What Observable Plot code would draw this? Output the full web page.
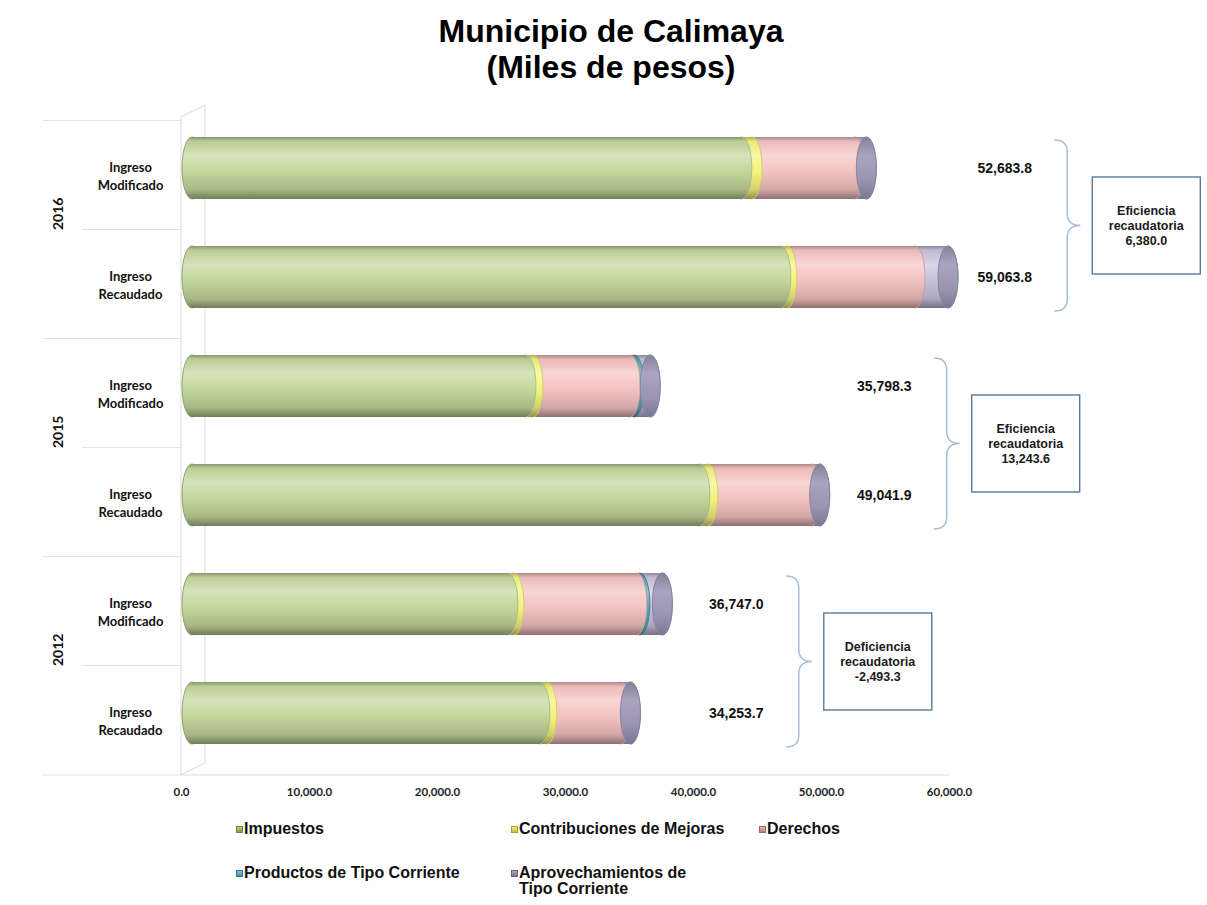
<!DOCTYPE html>
<html><head><meta charset="utf-8">
<script src="https://cdn.jsdelivr.net/npm/d3@7"></script>
<script src="https://cdn.jsdelivr.net/npm/@observablehq/plot@0.6"></script>
<style>
body{margin:0;background:#fff;width:1207px;height:905px;overflow:hidden;font-family:"Liberation Sans",Arial,sans-serif;}
#title{position:relative;height:100px;}
#title div{position:absolute;left:611px;transform:translateX(-50%);white-space:nowrap;font-weight:bold;font-size:32px;line-height:35px;color:#000}
#chart svg{display:block}
#legend{position:relative;height:105px}
.item{position:absolute;display:flex;align-items:flex-start;font-weight:bold;font-size:16px;line-height:16px;color:#111;white-space:nowrap}
.sw{width:7px;height:7px;margin:5px 1px 0 0;flex:none;box-sizing:border-box}
</style></head><body>
<div id="title"><div style="top:14px">Municipio de Calimaya</div><div style="top:50px">(Miles de pesos)</div></div>
<div id="chart"></div>
<div id="legend"></div>
<script>
// ---- data ----
const years = [2016, 2015, 2012];
const rowYear = [2016, 2016, 2015, 2015, 2012, 2012];
const rowTipo = ["Modificado", "Recaudado", "Modificado", "Recaudado", "Modificado", "Recaudado"];
const series = ["Impuestos", "Contribuciones de Mejoras", "Derechos", "Productos de Tipo Corriente", "Aprovechamientos de Tipo Corriente"];
const legendLabels = ["Impuestos", "Contribuciones de Mejoras", "Derechos", "Productos de Tipo Corriente", "Aprovechamientos de<br>Tipo Corriente"];
const impuestos       = [42955, 46000, 26085, 39675, 24680, 27179];
const contribuciones  = [800, 470, 550, 625, 470, 547];
const derechos        = [8044, 10016.8, 7601, 8116.9, 9606, 5779];
const productos       = [0, 0, 312, 0, 234, 0];
const aprovechamientos= [884.8, 2577, 1250.3, 625, 1757, 748.7];
const totals          = [52683.8, 59063.8, 35798.3, 49041.9, 36747.0, 34253.7];
const xTicks = [0, 10000, 20000, 30000, 40000, 50000, 60000];

// ---- styles ----
const baseColors = ["#c3d69b", "#f3f37d", "#f4c2c1", "#5d9fae", "#c9c1dc"];
const capStroke  = ["#a9bb84", "#cfcc66", "#b9a2b0", "#3f7f8f", "#8f93b0"];
const swatch     = ["#9bbb59", "#e6e34f", "#d99694", "#4bacc6", "#8f8aa8"];

const loc = d3.formatLocale({decimal: ".", thousands: ",", grouping: [3], currency: ["$", ""], minus: "-"});
const fmt = loc.format(",.1f");

const keys = rowYear.map((y, i) => `${y}|${rowTipo[i]}`);
const seriesValues = [impuestos, contribuciones, derechos, productos, aprovechamientos];
const segs = [];
keys.forEach((k, i) => {
  let c = 0;
  seriesValues.forEach((vals, s) => {
    const v = vals[i];
    if (v > 0) segs.push({key: k, s, x1: c, x2: c + v});
    c += v;
  });
});
const rows = keys.map((k, i) => ({key: k, year: rowYear[i], tipo: rowTipo[i], total: totals[i]}));
const groupMax = {};
rows.forEach(r => groupMax[r.year] = Math.max(groupMax[r.year] || 0, r.total));
const labelX = y => groupMax[y] * 0.94 + 8800;

const DX = 11, DY = -7;
const capOpts = {y: "key", insetLeft: -10, insetRight: -10, rx: 10, ry: 40, dx: DX, dy: DY, strokeWidth: 0.9};
const marks = [];
// right-to-left: each segment's end cap, then its body over the cap's left half
for (let s = series.length - 1; s >= 0; s--) {
  const d = segs.filter(g => g.s === s);
  marks.push(Plot.barX(d, {...capOpts, x1: "x2", x2: "x2", fill: `url(#g${s})`, stroke: capStroke[s]}));
  if (s === 0) marks.push(Plot.barX(d, {...capOpts, x1: "x1", x2: "x1", fill: "url(#g0)", stroke: "#8a9a68"}));
  marks.push(Plot.barX(d, {x1: "x1", x2: "x2", y: "key", fill: `url(#g${s})`, dx: DX, dy: DY}));
}
marks.push(Plot.barX(rows, {...capOpts, x1: "total", x2: "total", fill: "url(#gface)", stroke: "#7e86a0", strokeWidth: 1}));
marks.push(Plot.text(rows, {x: d => labelX(d.year), y: "key", text: d => fmt(d.total), dy: DY,
  fontFamily: "Liberation Sans, Arial, sans-serif", fontSize: 14, fontWeight: "bold", fill: "#111"}));
marks.push(Plot.text(years, {y: d => `${d}|Recaudado`, text: d => String(d), frameAnchor: "left", dx: -123, dy: -54.5,
  rotate: -90, fontFamily: "Lato, sans-serif", fontSize: 14, fontWeight: "bold", fill: "#111"}));
marks.push(Plot.axisX(xTicks, {tickFormat: fmt, tickSize: 0, tickPadding: 12, label: null,
  fontFamily: "Lato, sans-serif", fontSize: 11.5, fontWeight: "bold", fill: "#222"}));
marks.push(Plot.axisY({tickSize: 0, tickPadding: 51, textAnchor: "middle", label: null,
  tickFormat: k => "Ingreso\n" + k.split("|")[1], lineHeight: 1.38,
  fontFamily: "Lato, sans-serif", fontSize: 13, fontWeight: "bold", fill: "#111"}));

const fig = Plot.plot({
  width: 1207, height: 700,
  marginLeft: 181, marginRight: 258, marginTop: 21, marginBottom: 25,
  x: {domain: [0, 60000]},
  y: {domain: keys, paddingInner: 0.43, paddingOuter: 0.215},
  style: {fontFamily: "Lato, sans-serif", fontSize: "12px", color: "#1a1a1a", background: "white", overflow: "visible"},
  marks
});
document.getElementById("chart").appendChild(fig);

// ---- gradients ----
const svg = d3.select(fig);
const defs = svg.insert("defs", ":first-child");
const mix = (a, b, t) => d3.interpolateRgb(a, b)(t);
function addGrad(id, stops) {
  const g = defs.append("linearGradient").attr("id", id).attr("x1", 0).attr("y1", 0).attr("x2", 0).attr("y2", 1);
  stops.forEach(([o, c]) => g.append("stop").attr("offset", o).attr("stop-color", c));
}
baseColors.forEach((c, i) => addGrad(`g${i}`, [
  [0, mix(c, "#000", 0.3)], [0.07, mix(c, "#000", 0.04)], [0.3, mix(c, "#fff", 0.32)],
  [0.56, c], [0.85, mix(c, "#000", 0.14)], [1, mix(c, "#000", 0.42)]
]));
addGrad("gface", [[0, "#858099"], [0.3, "#aaa4c0"], [0.7, "#9a94b0"], [1, "#7a7590"]]);

// ---- decorations through the scales ----
const xs = fig.scale("x"), ys = fig.scale("y");
const [r0, r1] = ys.range;
const step = (r1 - r0) / keys.length;
const center = k => ys.apply(k) + (ys.bandwidth || 0) / 2;
const x0 = xs.apply(0), xEnd = xs.apply(60000);
const deco = svg.insert("g", "defs + *").attr("fill", "none").attr("stroke", "#d9d9d9").attr("stroke-width", 1);
deco.append("path").attr("d",
  `M${x0},${r0 - 4}L${x0 + 24},${r0 - 16}L${x0 + 24},${r1 - 12}M${x0},${r0 - 4}L${x0},${r1}L${x0 + 24},${r1 - 12}M${x0},${r1}L${xEnd},${r1}`);
keys.forEach((k, i) => {
  const yTop = center(k) - step / 2;
  const left = rowTipo[i] === "Modificado" ? 43 : 82;
  deco.append("line").attr("x1", left).attr("x2", x0).attr("y1", yTop).attr("y2", yTop).attr("stroke", "#e2e2e2");
});
deco.append("line").attr("x1", 43).attr("x2", x0).attr("y1", r1).attr("y2", r1).attr("stroke", "#e2e2e2");

// braces and boxes
const ann = svg.append("g");
years.forEach(y => {
  const iM = rows.findIndex(r => r.year === y && r.tipo === "Modificado");
  const iR = rows.findIndex(r => r.year === y && r.tipo === "Recaudado");
  const bw = ys.bandwidth || step * 0.57;
  const top = center(keys[iM]) + DY - bw / 2 + 3;
  const bot = center(keys[iR]) + DY + bw / 2 + 3;
  const mid = (top + bot) / 2;
  const bx = xs.apply(labelX(y)) + 50, w = 26, xm = bx + w / 2, r = 12;
  ann.append("path").attr("fill", "none").attr("stroke", "#a9bfd8").attr("stroke-width", 1.5)
    .attr("d", `M${bx},${top}Q${xm},${top} ${xm},${top + r}L${xm},${mid - r}Q${xm},${mid} ${bx + w},${mid}Q${xm},${mid} ${xm},${mid + r}L${xm},${bot - r}Q${xm},${bot} ${bx},${bot}`);
  const boxL = bx + 38, boxW = 108, boxH = 97;
  ann.append("rect").attr("x", boxL).attr("y", mid - boxH / 2).attr("width", boxW).attr("height", boxH)
    .attr("fill", "#fff").attr("stroke", "#58799e").attr("stroke-width", 1.4);
  const diff = rows[iR].total - rows[iM].total;
  const lines = [diff >= 0 ? "Eficiencia" : "Deficiencia", "recaudatoria", fmt(diff)];
  lines.forEach((t, j) => ann.append("text").attr("x", boxL + boxW / 2).attr("y", mid + (j - 1) * 15)
    .attr("dy", "0.35em").attr("text-anchor", "middle").attr("font-family", "Liberation Sans, Arial, sans-serif")
    .attr("font-size", 12.5).attr("font-weight", "bold").attr("fill", "#1a1a1a").text(t));
});

// ---- legend ----
const legendPos = [[236, 21], [511, 21], [759, 21], [236, 65], [511, 65]];
const leg = document.getElementById("legend");
series.forEach((s, i) => {
  const it = document.createElement("div");
  it.className = "item";
  it.style.left = legendPos[i][0] + "px";
  it.style.top = legendPos[i][1] + "px";
  const c = swatch[i];
  it.innerHTML = `<span class="sw" style="background:linear-gradient(${mix(c, "#fff", 0.3)},${mix(c, "#000", 0.15)});border:1px solid ${mix(c, "#000", 0.3)}"></span><span>${legendLabels[i]}</span>`;
  leg.appendChild(it);
});
</script>
</body></html>
